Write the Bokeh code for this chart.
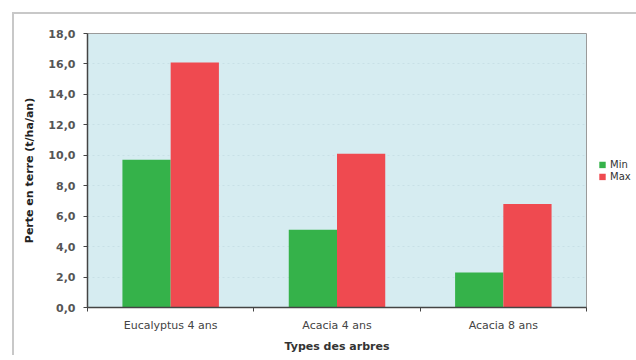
from bokeh.plotting import figure
from bokeh.models import (ColumnDataSource, FixedTicker, CustomJSTickFormatter, Legend,
                          LegendItem, Range1d)
from bokeh.embed import file_html
from bokeh.resources import INLINE

categories = ["Eucalyptus 4 ans", "Acacia 4 ans", "Acacia 8 ans"]
minimum = [9.7, 5.1, 2.3]
maximum = [16.1, 10.1, 6.8]
series_names = ["Min", "Max"]
y_ticks = [0, 2, 4, 6, 8, 10, 12, 14, 16, 18]

GREEN = "#35b24a"
RED = "#ef4a50"
BG = "#d6ecf1"

centers = [i + 0.5 for i in range(len(categories))]
src = ColumnDataSource(dict(
    xmin=[c - 0.145 for c in centers],
    xmax=[c + 0.145 for c in centers],
    minimum=minimum,
    maximum=maximum,
))

p = figure(frame_width=499, frame_height=274, output_backend="svg", toolbar_location=None,
           x_range=Range1d(0, len(categories)), y_range=Range1d(0, 18),
           min_border_left=73, min_border_top=19, min_border_bottom=38, min_border_right=0)
p.background_fill_color = BG
p.border_fill_color = "white"
p.outline_line_color = "#9a9a9a"
p.outline_line_width = 1
p.styles = {"border-left": "2px solid #c8c8c8", "border-top": "2px solid #c8c8c8",
            "margin-left": "12px", "margin-top": "12px"}

r1 = p.vbar(x="xmin", top="minimum", width=0.29, source=src, fill_color=GREEN, line_color=None)
r2 = p.vbar(x="xmax", top="maximum", width=0.29, source=src, fill_color=RED, line_color=None)

# x axis: labels at centers, ticks at category boundaries
p.xaxis.ticker = FixedTicker(ticks=centers, minor_ticks=list(range(len(categories) + 1)))
p.xaxis.major_label_overrides = {c: lab for c, lab in zip(centers, categories)}
p.xaxis.major_tick_line_color = None
p.xaxis.minor_tick_out = 4
p.xaxis.minor_tick_in = 0
p.xaxis.minor_tick_line_color = "#444444"
p.xaxis.axis_line_color = "#444444"
p.xaxis.axis_line_width = 1.5
p.xaxis.major_label_text_font = "DejaVu Sans"
p.xaxis.major_label_text_font_size = "11px"
p.xaxis.major_label_text_color = "#444444"
p.xaxis.major_label_standoff = 5
p.xaxis.axis_label = "Types des arbres"
p.xaxis.axis_label_text_font = "DejaVu Sans"
p.xaxis.axis_label_text_font_size = "11px"
p.xaxis.axis_label_text_font_style = "bold"
p.xaxis.axis_label_text_color = "#333333"
p.xaxis.axis_label_standoff = 5

p.yaxis.ticker = FixedTicker(ticks=y_ticks, minor_ticks=[])
p.yaxis.formatter = CustomJSTickFormatter(code="return tick.toFixed(1).replace('.', ',');")
p.yaxis.major_tick_out = 4
p.yaxis.major_tick_in = 0
p.yaxis.major_tick_line_color = "#444444"
p.yaxis.axis_line_color = "#444444"
p.yaxis.axis_line_width = 1.5
p.yaxis.major_label_text_font = "DejaVu Sans"
p.yaxis.major_label_text_font_size = "11px"
p.yaxis.major_label_text_font_style = "bold"
p.yaxis.major_label_text_color = "#555555"
p.yaxis.major_label_standoff = 8
p.yaxis.axis_label = "Perte en terre (t/ha/an)"
p.yaxis.axis_label_text_font = "DejaVu Sans"
p.yaxis.axis_label_text_font_size = "11px"
p.yaxis.axis_label_text_font_style = "bold"
p.yaxis.axis_label_text_color = "#222222"
p.yaxis.axis_label_standoff = 9

p.xgrid.grid_line_color = None
p.ygrid.grid_line_color = "#c8e0e6"
p.ygrid.grid_line_dash = "2 3"

legend = Legend(items=[LegendItem(label=series_names[0], renderers=[r1]),
                       LegendItem(label=series_names[1], renderers=[r2])],
                location="center_left", border_line_color=None, background_fill_alpha=0,
                label_text_font="DejaVu Sans", label_text_font_size="10px",
                label_text_color="#333333", glyph_width=8, glyph_height=8,
                label_standoff=4, spacing=1, padding=0, margin=12,
                label_height=10)
p.add_layout(legend, "right")

open("out.html", "w").write(file_html(p, INLINE))
